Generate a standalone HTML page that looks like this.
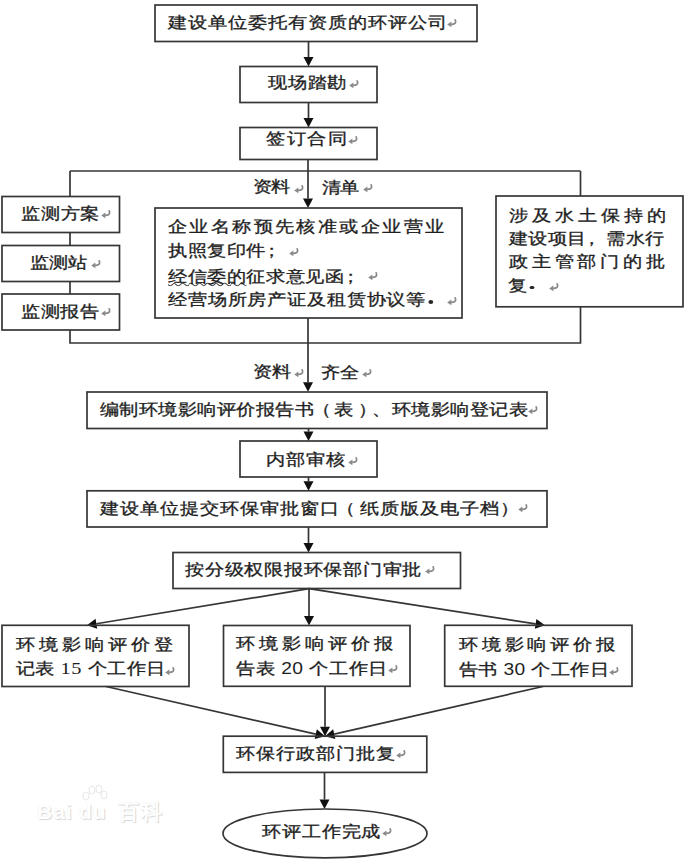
<!DOCTYPE html>
<html><head><meta charset="utf-8"><style>
html,body{margin:0;padding:0;background:#fff;}
body{width:692px;height:865px;position:relative;overflow:hidden;font-family:"Liberation Sans",sans-serif;}
svg.main{position:absolute;left:0;top:0;}
.t{position:absolute;font-size:16px;line-height:16px;white-space:pre;color:#1e1e1e;transform:scaleX(1.2);transform-origin:0 0;-webkit-text-stroke:0.3px #1e1e1e;}
.ret{position:absolute;}
.ser{font-family:"Liberation Serif",serif;font-size:17px;letter-spacing:0.5px;-webkit-text-stroke:0;}
.pl{position:relative;left:-3px;}
.pc{position:relative;left:-4px;}
.po{position:relative;left:-2px;}
.po2{position:relative;left:-3px;}
.pr{position:relative;left:4px;}
.nd{-webkit-text-stroke:0;}
.dot{display:inline-block;width:4px;height:3.8px;border-radius:50%;background:#262626;margin-left:1.5px;vertical-align:1.5px;-webkit-text-stroke:0;}
.sq{text-decoration:underline wavy #4a4a4a;text-decoration-thickness:1.2px;text-underline-offset:0px;}
.wm{position:absolute;top:801px;font-size:21px;line-height:22px;font-weight:bold;color:#fff;text-shadow:1px 1px 1px #d6d6d6,0 0 1px #e6e6e6;letter-spacing:1px;}
</style></head><body>
<svg class="main" width="692" height="865" viewBox="0 0 692 865">
<rect x="155" y="5" width="322" height="36.5" fill="none" stroke="#363636" stroke-width="1.7"/>
<line x1="308.5" y1="41.5" x2="308.5" y2="57.0" stroke="#363636" stroke-width="1.7"/>
<polygon points="308.5,66.5 303.50,57.00 313.50,57.00" fill="#111"/>
<rect x="240" y="66.5" width="137" height="36.0" fill="none" stroke="#363636" stroke-width="1.7"/>
<line x1="308.5" y1="102.5" x2="308.5" y2="118.0" stroke="#363636" stroke-width="1.7"/>
<polygon points="308.5,127.5 303.50,118.00 313.50,118.00" fill="#111"/>
<rect x="240" y="127.5" width="137" height="32.0" fill="none" stroke="#363636" stroke-width="1.7"/>
<line x1="308" y1="159.5" x2="308" y2="171" stroke="#363636" stroke-width="1.7"/>
<line x1="308" y1="171" x2="308.0" y2="198.5" stroke="#363636" stroke-width="1.7"/>
<polygon points="308,208 303.00,198.50 313.00,198.50" fill="#111"/>
<polyline points="70,171 580.5,171" fill="none" stroke="#363636" stroke-width="1.7"/>
<polyline points="70,171 70,196.5" fill="none" stroke="#363636" stroke-width="1.7"/>
<polyline points="70,232.5 70,245.5" fill="none" stroke="#363636" stroke-width="1.7"/>
<polyline points="70,281.5 70,294" fill="none" stroke="#363636" stroke-width="1.7"/>
<polyline points="70,330 70,343 580.5,343 580.5,306.8" fill="none" stroke="#363636" stroke-width="1.7"/>
<polyline points="580.5,171 580.5,196" fill="none" stroke="#363636" stroke-width="1.7"/>
<rect x="2" y="196.5" width="117.5" height="36.0" fill="none" stroke="#363636" stroke-width="1.7"/>
<rect x="2" y="245.5" width="117.5" height="36.0" fill="none" stroke="#363636" stroke-width="1.7"/>
<rect x="2" y="294" width="117.5" height="36" fill="none" stroke="#363636" stroke-width="1.7"/>
<rect x="155" y="208" width="307" height="110" fill="none" stroke="#363636" stroke-width="1.7"/>
<rect x="496" y="196" width="187" height="110.80000000000001" fill="none" stroke="#363636" stroke-width="1.7"/>
<line x1="308" y1="318" x2="308" y2="343" stroke="#363636" stroke-width="1.7"/>
<line x1="308" y1="343" x2="308.0" y2="382.3" stroke="#363636" stroke-width="1.7"/>
<polygon points="308,391.8 303.00,382.30 313.00,382.30" fill="#111"/>
<rect x="87" y="392" width="460" height="36.5" fill="none" stroke="#363636" stroke-width="1.7"/>
<line x1="308.5" y1="428.5" x2="308.5" y2="431.5" stroke="#363636" stroke-width="1.7"/>
<polygon points="308.5,441 303.50,431.50 313.50,431.50" fill="#111"/>
<rect x="240" y="441" width="137" height="36" fill="none" stroke="#363636" stroke-width="1.7"/>
<line x1="308.5" y1="477" x2="308.5" y2="481.3" stroke="#363636" stroke-width="1.7"/>
<polygon points="308.5,490.8 303.50,481.30 313.50,481.30" fill="#111"/>
<rect x="87" y="490.8" width="460" height="36.19999999999999" fill="none" stroke="#363636" stroke-width="1.7"/>
<line x1="308.5" y1="527" x2="308.5" y2="543.0" stroke="#363636" stroke-width="1.7"/>
<polygon points="308.5,552.5 303.50,543.00 313.50,543.00" fill="#111"/>
<rect x="173" y="552.5" width="287.5" height="36.0" fill="none" stroke="#363636" stroke-width="1.7"/>
<line x1="309" y1="588.5" x2="309.0" y2="616.0" stroke="#363636" stroke-width="1.7"/>
<polygon points="309,625.5 304.00,616.00 314.00,616.00" fill="#111"/>
<line x1="309" y1="588.7" x2="96.37346664580697" y2="623.7546446881237" stroke="#363636" stroke-width="1.7"/>
<polygon points="87,625.3 95.56,618.82 97.19,628.69" fill="#111"/>
<line x1="309" y1="588.7" x2="535.6122232470818" y2="623.8440990289965" stroke="#363636" stroke-width="1.7"/>
<polygon points="545,625.3 534.85,628.79 536.38,618.90" fill="#111"/>
<rect x="2" y="625.3" width="187" height="61.200000000000045" fill="none" stroke="#363636" stroke-width="1.7"/>
<rect x="223.5" y="625.5" width="186.5" height="60.799999999999955" fill="none" stroke="#363636" stroke-width="1.7"/>
<rect x="444.7" y="625.3" width="187.3" height="61.0" fill="none" stroke="#363636" stroke-width="1.7"/>
<line x1="106" y1="686.5" x2="315.7355734467677" y2="734.0975251155451" stroke="#363636" stroke-width="1.7"/>
<polygon points="325,736.2 314.63,738.97 316.84,729.22" fill="#111"/>
<line x1="543" y1="686.5" x2="334.262340983333" y2="734.0883562070109" stroke="#363636" stroke-width="1.7"/>
<polygon points="325,736.2 333.15,729.21 335.37,738.96" fill="#111"/>
<line x1="325" y1="686.3" x2="325.0" y2="726.7" stroke="#363636" stroke-width="1.7"/>
<polygon points="325,736.2 320.00,726.70 330.00,726.70" fill="#111"/>
<rect x="223.3" y="736.2" width="203.5" height="36.19999999999993" fill="none" stroke="#363636" stroke-width="1.7"/>
<line x1="324.5" y1="772.4" x2="324.5" y2="799.5" stroke="#363636" stroke-width="1.7"/>
<polygon points="324.5,809 319.50,799.50 329.50,799.50" fill="#111"/>
<ellipse cx="325.0" cy="833.4" rx="102.0" ry="24.4" fill="none" stroke="#363636" stroke-width="1.7"/>
</svg>
<div class="t" id="t0" style="left:168.40px;top:15.10px;letter-spacing:0.641px">建设单位委托有资质的环评公司</div><svg class="ret" style="left:447.0px;top:18.9px" width="10" height="9" viewBox="0 0 10 9"><path d="M8.2 0.9 C9.3 3.6 8.3 5.4 4 5.4" fill="none" stroke="#8a8a8a" stroke-width="1.7" stroke-linecap="round"/><path d="M0.2 5.4 L4.4 2.5 L4.4 8.3 Z" fill="#8a8a8a"/></svg><div class="t" id="t1" style="left:268.30px;top:75.20px;letter-spacing:0.500px">现场踏勘</div><svg class="ret" style="left:348.7px;top:79.8px" width="10" height="9" viewBox="0 0 10 9"><path d="M8.2 0.9 C9.3 3.6 8.3 5.4 4 5.4" fill="none" stroke="#8a8a8a" stroke-width="1.7" stroke-linecap="round"/><path d="M0.2 5.4 L4.4 2.5 L4.4 8.3 Z" fill="#8a8a8a"/></svg><div class="t" id="t2" style="left:266.20px;top:130.80px;letter-spacing:1.278px">签订合同</div><svg class="ret" style="left:347.8px;top:136.2px" width="10" height="9" viewBox="0 0 10 9"><path d="M8.2 0.9 C9.3 3.6 8.3 5.4 4 5.4" fill="none" stroke="#8a8a8a" stroke-width="1.7" stroke-linecap="round"/><path d="M0.2 5.4 L4.4 2.5 L4.4 8.3 Z" fill="#8a8a8a"/></svg><div class="t" id="t3" style="left:253.00px;top:179.40px;letter-spacing:-0.833px">资料</div><svg class="ret" style="left:294.3px;top:184.6px" width="10" height="9" viewBox="0 0 10 9"><path d="M8.2 0.9 C9.3 3.6 8.3 5.4 4 5.4" fill="none" stroke="#8a8a8a" stroke-width="1.7" stroke-linecap="round"/><path d="M0.2 5.4 L4.4 2.5 L4.4 8.3 Z" fill="#8a8a8a"/></svg><div class="t" id="t4" style="left:321.80px;top:179.60px;letter-spacing:-0.666px">清单</div><svg class="ret" style="left:362.5px;top:184.4px" width="10" height="9" viewBox="0 0 10 9"><path d="M8.2 0.9 C9.3 3.6 8.3 5.4 4 5.4" fill="none" stroke="#8a8a8a" stroke-width="1.7" stroke-linecap="round"/><path d="M0.2 5.4 L4.4 2.5 L4.4 8.3 Z" fill="#8a8a8a"/></svg><div class="t" id="t5" style="left:20.80px;top:205.80px;letter-spacing:0.500px">监测方案</div><svg class="ret" style="left:101.0px;top:210.2px" width="10" height="9" viewBox="0 0 10 9"><path d="M8.2 0.9 C9.3 3.6 8.3 5.4 4 5.4" fill="none" stroke="#8a8a8a" stroke-width="1.7" stroke-linecap="round"/><path d="M0.2 5.4 L4.4 2.5 L4.4 8.3 Z" fill="#8a8a8a"/></svg><div class="t" id="t6" style="left:30.30px;top:255.20px;letter-spacing:-0.166px">监测站</div><svg class="ret" style="left:91.0px;top:259.8px" width="10" height="9" viewBox="0 0 10 9"><path d="M8.2 0.9 C9.3 3.6 8.3 5.4 4 5.4" fill="none" stroke="#8a8a8a" stroke-width="1.7" stroke-linecap="round"/><path d="M0.2 5.4 L4.4 2.5 L4.4 8.3 Z" fill="#8a8a8a"/></svg><div class="t" id="t7" style="left:20.80px;top:303.80px;letter-spacing:0.278px">监测报告</div><svg class="ret" style="left:101.0px;top:308.2px" width="10" height="9" viewBox="0 0 10 9"><path d="M8.2 0.9 C9.3 3.6 8.3 5.4 4 5.4" fill="none" stroke="#8a8a8a" stroke-width="1.7" stroke-linecap="round"/><path d="M0.2 5.4 L4.4 2.5 L4.4 8.3 Z" fill="#8a8a8a"/></svg><div class="t" id="t8" style="left:168.00px;top:219.10px;letter-spacing:1.847px">企业名称预先核准或企业营业</div><div class="t" id="t9" style="left:168.10px;top:242.90px;letter-spacing:0.333px">执照复印件<span class="pl">；</span></div><svg class="ret" style="left:288.7px;top:248.1px" width="10" height="9" viewBox="0 0 10 9"><path d="M8.2 0.9 C9.3 3.6 8.3 5.4 4 5.4" fill="none" stroke="#8a8a8a" stroke-width="1.7" stroke-linecap="round"/><path d="M0.2 5.4 L4.4 2.5 L4.4 8.3 Z" fill="#8a8a8a"/></svg><div class="t" id="t10" style="left:168.00px;top:268.60px;letter-spacing:0.333px"><span class="sq">经信委的</span>征求意见函<span class="pl">；</span></div><svg class="ret" style="left:367.8px;top:272.4px" width="10" height="9" viewBox="0 0 10 9"><path d="M8.2 0.9 C9.3 3.6 8.3 5.4 4 5.4" fill="none" stroke="#8a8a8a" stroke-width="1.7" stroke-linecap="round"/><path d="M0.2 5.4 L4.4 2.5 L4.4 8.3 Z" fill="#8a8a8a"/></svg><div class="t" id="t11" style="left:168.00px;top:292.30px;letter-spacing:0.542px">经营场所房产证及租赁协议等<span class="dot"></span></div><svg class="ret" style="left:446.8px;top:296.7px" width="10" height="9" viewBox="0 0 10 9"><path d="M8.2 0.9 C9.3 3.6 8.3 5.4 4 5.4" fill="none" stroke="#8a8a8a" stroke-width="1.7" stroke-linecap="round"/><path d="M0.2 5.4 L4.4 2.5 L4.4 8.3 Z" fill="#8a8a8a"/></svg><div class="t" id="t12" style="left:508.60px;top:207.60px;letter-spacing:3.139px">涉及水土保持的</div><div class="t" id="t13" style="left:508.60px;top:230.50px;letter-spacing:0.190px">建设项目<span class="pc">，</span>需水行</div><div class="t" id="t14" style="left:508.60px;top:254.40px;letter-spacing:3.000px">政主管部门的批</div><div class="t" id="t15" style="left:507.60px;top:277.80px;letter-spacing:0.333px">复<span class="dot"></span></div><svg class="ret" style="left:549.4px;top:283.2px" width="10" height="9" viewBox="0 0 10 9"><path d="M8.2 0.9 C9.3 3.6 8.3 5.4 4 5.4" fill="none" stroke="#8a8a8a" stroke-width="1.7" stroke-linecap="round"/><path d="M0.2 5.4 L4.4 2.5 L4.4 8.3 Z" fill="#8a8a8a"/></svg><div class="t" id="t16" style="left:253.20px;top:363.50px;letter-spacing:-0.333px">资料</div><svg class="ret" style="left:294.3px;top:368.5px" width="10" height="9" viewBox="0 0 10 9"><path d="M8.2 0.9 C9.3 3.6 8.3 5.4 4 5.4" fill="none" stroke="#8a8a8a" stroke-width="1.7" stroke-linecap="round"/><path d="M0.2 5.4 L4.4 2.5 L4.4 8.3 Z" fill="#8a8a8a"/></svg><div class="t" id="t17" style="left:320.50px;top:364.50px;letter-spacing:0.167px">齐全</div><svg class="ret" style="left:362.0px;top:368.5px" width="10" height="9" viewBox="0 0 10 9"><path d="M8.2 0.9 C9.3 3.6 8.3 5.4 4 5.4" fill="none" stroke="#8a8a8a" stroke-width="1.7" stroke-linecap="round"/><path d="M0.2 5.4 L4.4 2.5 L4.4 8.3 Z" fill="#8a8a8a"/></svg><div class="t" id="t18" style="left:99.90px;top:402.10px;letter-spacing:0.218px">编制环境影响评价报告书<span class="po">（</span>表<span class="pr">）</span>、环境影响登记表</div><svg class="ret" style="left:527.5px;top:405.9px" width="10" height="9" viewBox="0 0 10 9"><path d="M8.2 0.9 C9.3 3.6 8.3 5.4 4 5.4" fill="none" stroke="#8a8a8a" stroke-width="1.7" stroke-linecap="round"/><path d="M0.2 5.4 L4.4 2.5 L4.4 8.3 Z" fill="#8a8a8a"/></svg><div class="t" id="t19" style="left:265.50px;top:452.30px;letter-spacing:0.667px">内部审核</div><svg class="ret" style="left:347.5px;top:456.7px" width="10" height="9" viewBox="0 0 10 9"><path d="M8.2 0.9 C9.3 3.6 8.3 5.4 4 5.4" fill="none" stroke="#8a8a8a" stroke-width="1.7" stroke-linecap="round"/><path d="M0.2 5.4 L4.4 2.5 L4.4 8.3 Z" fill="#8a8a8a"/></svg><div class="t" id="t20" style="left:99.90px;top:500.60px;letter-spacing:0.667px">建设单位提交环保审批窗口<span class="po2">（</span>纸质版及电子档）</div><svg class="ret" style="left:518.0px;top:504.4px" width="10" height="9" viewBox="0 0 10 9"><path d="M8.2 0.9 C9.3 3.6 8.3 5.4 4 5.4" fill="none" stroke="#8a8a8a" stroke-width="1.7" stroke-linecap="round"/><path d="M0.2 5.4 L4.4 2.5 L4.4 8.3 Z" fill="#8a8a8a"/></svg><div class="t" id="t21" style="left:185.10px;top:562.20px;letter-spacing:0.470px">按分级权限报环保部门审批</div><svg class="ret" style="left:424.5px;top:565.8px" width="10" height="9" viewBox="0 0 10 9"><path d="M8.2 0.9 C9.3 3.6 8.3 5.4 4 5.4" fill="none" stroke="#8a8a8a" stroke-width="1.7" stroke-linecap="round"/><path d="M0.2 5.4 L4.4 2.5 L4.4 8.3 Z" fill="#8a8a8a"/></svg><div class="t" id="t22" style="left:15.90px;top:636.50px;letter-spacing:3.153px">环境影响评价登</div><div class="t" id="t23" style="left:15.90px;top:661.40px;letter-spacing:0.204px">记表 <span class="ser">15</span> 个工作日</div><svg class="ret" style="left:165.0px;top:666.6px" width="10" height="9" viewBox="0 0 10 9"><path d="M8.2 0.9 C9.3 3.6 8.3 5.4 4 5.4" fill="none" stroke="#8a8a8a" stroke-width="1.7" stroke-linecap="round"/><path d="M0.2 5.4 L4.4 2.5 L4.4 8.3 Z" fill="#8a8a8a"/></svg><div class="t" id="t24" style="left:235.50px;top:635.90px;letter-spacing:3.195px">环境影响评价报</div><div class="t" id="t25" style="left:235.50px;top:660.80px;letter-spacing:0.389px">告表 <span class="nd">20</span> 个工作日</div><svg class="ret" style="left:388.0px;top:665.2px" width="10" height="9" viewBox="0 0 10 9"><path d="M8.2 0.9 C9.3 3.6 8.3 5.4 4 5.4" fill="none" stroke="#8a8a8a" stroke-width="1.7" stroke-linecap="round"/><path d="M0.2 5.4 L4.4 2.5 L4.4 8.3 Z" fill="#8a8a8a"/></svg><div class="t" id="t26" style="left:458.90px;top:636.80px;letter-spacing:3.000px">环境影响评价报</div><div class="t" id="t27" style="left:458.90px;top:662.40px;letter-spacing:0.241px">告书 <span class="nd">30</span> 个工作日</div><svg class="ret" style="left:608.7px;top:666.6px" width="10" height="9" viewBox="0 0 10 9"><path d="M8.2 0.9 C9.3 3.6 8.3 5.4 4 5.4" fill="none" stroke="#8a8a8a" stroke-width="1.7" stroke-linecap="round"/><path d="M0.2 5.4 L4.4 2.5 L4.4 8.3 Z" fill="#8a8a8a"/></svg><div class="t" id="t28" style="left:236.10px;top:745.80px;letter-spacing:0.619px">环保行政部门批复</div><svg class="ret" style="left:396.4px;top:750.2px" width="10" height="9" viewBox="0 0 10 9"><path d="M8.2 0.9 C9.3 3.6 8.3 5.4 4 5.4" fill="none" stroke="#8a8a8a" stroke-width="1.7" stroke-linecap="round"/><path d="M0.2 5.4 L4.4 2.5 L4.4 8.3 Z" fill="#8a8a8a"/></svg><div class="t" id="t29" style="left:261.50px;top:823.80px;letter-spacing:0.567px">环评工作完成</div><svg class="ret" style="left:381.6px;top:828.2px" width="10" height="9" viewBox="0 0 10 9"><path d="M8.2 0.9 C9.3 3.6 8.3 5.4 4 5.4" fill="none" stroke="#8a8a8a" stroke-width="1.7" stroke-linecap="round"/><path d="M0.2 5.4 L4.4 2.5 L4.4 8.3 Z" fill="#8a8a8a"/></svg>
<div class="wm" style="left:37px">Bai</div><div class="wm" style="left:79px">du</div><div class="wm" style="left:118px;letter-spacing:2px;font-size:21px;top:801px">百科</div>
<svg style="position:absolute;left:78px;top:784px" width="32" height="20" viewBox="0 0 32 20"><g fill="#fff" stroke="#e6e6e6" stroke-width="1"><ellipse cx="8" cy="12" rx="3" ry="4"/><ellipse cx="14" cy="6" rx="3" ry="4"/><ellipse cx="21" cy="5" rx="3" ry="4"/><ellipse cx="26" cy="11" rx="3" ry="4"/></g></svg>
</body></html>
